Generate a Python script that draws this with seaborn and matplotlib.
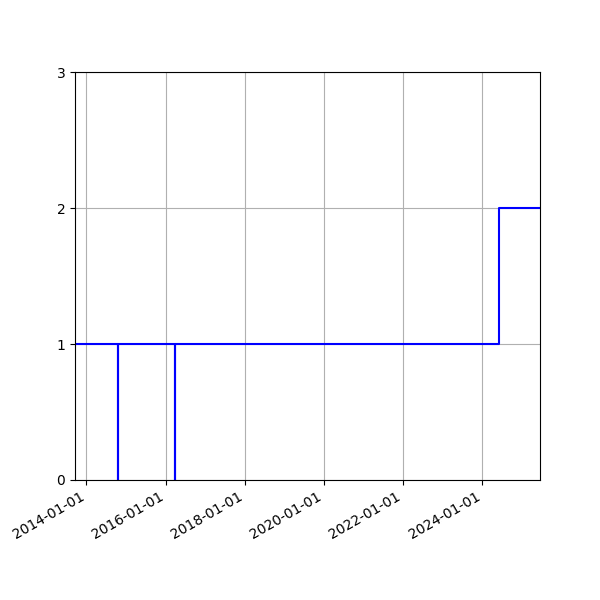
import matplotlib
matplotlib.use('Agg')
import matplotlib.pyplot as plt
import matplotlib.dates as mdates
import seaborn as sns
import pandas as pd

# step series
dates = ['2013-09-17', '2014-10-21', '2014-10-23', '2016-03-24', '2016-04-01',
         '2024-06-01', '2025-06-16']
values = [1, 0, 1, 0, 1, 2, 2]

df = pd.DataFrame({'Date': pd.to_datetime(dates), 'Value': values})

fig, ax = plt.subplots(figsize=(6, 6), dpi=100)
sns.lineplot(data=df, x='Date', y='Value', drawstyle='steps-post', color='blue',
             linewidth=1.5, ax=ax)
ax.set_xlim(df['Date'].min(), df['Date'].max())
ax.set_ylim(0, 3)
ax.set_yticks([0, 1, 2, 3])
ax.xaxis.set_major_locator(mdates.YearLocator(2))
ax.xaxis.set_major_formatter(mdates.DateFormatter('%Y-%m-%d'))
ax.set_xlabel('')
ax.set_ylabel('')
ax.grid(True)
fig.autofmt_xdate()
plt.savefig('out.png')
